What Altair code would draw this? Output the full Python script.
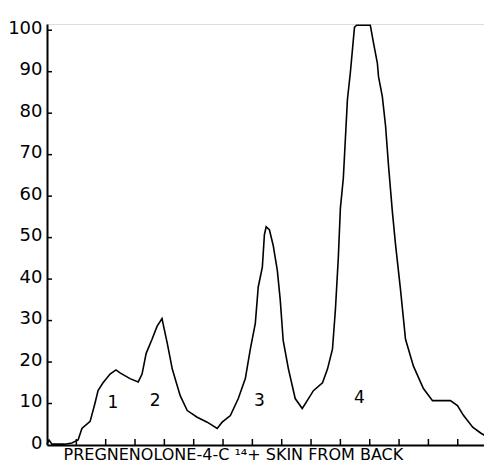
import altair as alt
import pandas as pd

# Scan trace (x in tick units along the strip, y in % of max)
scan_x = [0.00, 0.07, 0.17, 0.61, 0.85, 1.06, 1.19, 1.47, 1.64, 1.74,
          1.91, 2.15, 2.35, 2.49, 2.83, 3.11, 3.24, 3.38, 3.58, 3.75,
          3.92, 3.99, 4.10, 4.27, 4.54, 4.78, 5.12, 5.46, 5.80, 5.97,
          6.25, 6.52, 6.76, 6.93, 7.10, 7.20, 7.34, 7.41, 7.47, 7.58,
          7.71, 7.85, 7.95, 8.05, 8.23, 8.46, 8.70, 8.87, 9.08, 9.39,
          9.56, 9.73, 9.83, 9.93, 10.00, 10.10, 10.24, 10.34, 10.48, 10.55,
          11.02, 11.13, 11.26, 11.30, 11.43, 11.54, 11.64, 11.77, 11.88, 12.05,
          12.22, 12.49, 12.83, 13.14, 13.41, 13.75, 13.99, 14.20, 14.51, 14.78,
          15.02, 15.08]
scan_y = [0.2, 1.2, 0.2, 0.2, 0.5, 1.2, 4.0, 5.7, 10.2, 13.1,
          15.0, 17.1, 18.1, 17.4, 16.0, 15.2, 17.1, 22.1, 25.5, 28.6,
          30.5, 28.1, 24.5, 18.3, 11.9, 8.3, 6.7, 5.5, 4.0, 5.5,
          7.1, 11.2, 16.0, 23.1, 29.3, 38.1, 42.9, 50.7, 52.6, 51.9,
          48.1, 42.1, 35.0, 25.2, 18.3, 11.2, 8.8, 10.7, 13.1, 15.0,
          18.3, 23.1, 32.6, 45.2, 57.1, 64.3, 83.3, 89.8, 100.7, 101.2,
          101.2, 96.9, 92.1, 88.8, 84.0, 76.9, 67.4, 56.4, 48.3, 37.4,
          25.5, 19.0, 13.6, 10.7, 10.7, 10.7, 9.5, 7.1, 4.3, 2.9,
          1.9, 1.7]

peak_labels = ["1", "2", "3", "4"]
peak_x = [2.25, 3.69, 7.24, 10.65]
peak_y = [10.2, 10.7, 10.7, 11.4]

y_ticks = [10, 20, 30, 40, 50, 60, 70, 80, 90, 100]
y_tick_labels = [0, 10, 20, 30, 40, 50, 60, 70, 80, 90, 100]
x_ticks = list(range(1, 16))

W, H = 437, 421
FONT = "DejaVu Sans"

scan = pd.DataFrame({"x": scan_x, "y": scan_y})
peaks = pd.DataFrame({"label": peak_labels, "x": peak_x, "y": peak_y})
yt = pd.DataFrame({"y": y_ticks})
xt = pd.DataFrame({"x": x_ticks})

xscale = alt.Scale(domain=[0, 14.895], nice=False, zero=False)
yscale = alt.Scale(domain=[0, 101.5], nice=False)

line = alt.Chart(scan).mark_line(color="black", strokeWidth=1.6).encode(
    x=alt.X("x:Q", scale=xscale,
            axis=alt.Axis(labels=False, ticks=False, grid=False, domainColor="black",
                          domainWidth=2,
                          title="PREGNENOLONE-4-C ¹⁴+ SKIN FROM BACK",
                          titleFont=FONT, titleFontSize=16, titleFontWeight="normal",
                          titleColor="black", titleAnchor="start", titleAlign="left",
                          titleX=16, titleY=14, titleBaseline="alphabetic")),
    y=alt.Y("y:Q", scale=yscale,
            axis=alt.Axis(values=y_tick_labels, ticks=False, grid=False,
                          domainColor="black", domainWidth=2,
                          labelFont=FONT, labelFontSize=18, labelColor="black",
                          labelPadding=5, labelOffset=-2, title=None)),
)

ytick_marks = alt.Chart(yt).mark_rule(color="black", strokeWidth=1.5).encode(
    y=alt.Y("y:Q", scale=yscale), x=alt.value(0), x2=alt.value(5)
)
xtick_marks = alt.Chart(xt).mark_rule(color="black", strokeWidth=1.5).encode(
    x=alt.X("x:Q", scale=xscale), y=alt.value(H), y2=alt.value(H - 6)
)

labels = alt.Chart(peaks).mark_text(font=FONT, fontSize=17, color="black",
                                    baseline="middle", align="center").encode(
    x=alt.X("x:Q", scale=xscale), y=alt.Y("y:Q", scale=yscale), text="label:N"
)

chart = alt.layer(ytick_marks, xtick_marks, labels, line).properties(
    width=W, height=H,
    autosize=alt.AutoSizeParams(type="none"),
    padding={"left": 39, "top": 16, "right": 0, "bottom": 18},
).configure_view(stroke=None).configure(background="white")

chart.save("out.html", embed_options={"renderer": "svg", "actions": False})
